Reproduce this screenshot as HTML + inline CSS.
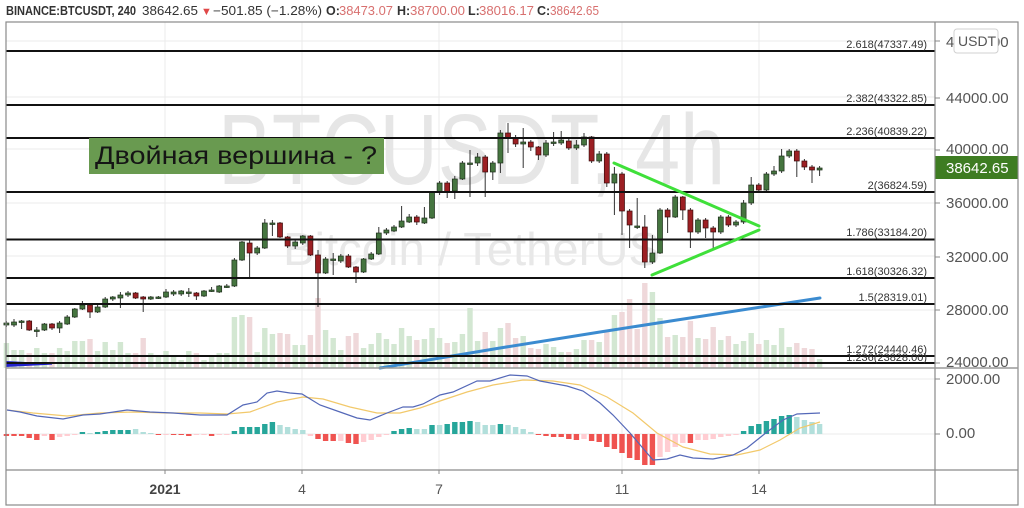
<!DOCTYPE html>
<html><head><meta charset="utf-8"><style>
html,body{margin:0;padding:0;background:#fff;width:1024px;height:508px;overflow:hidden}
svg{display:block;font-family:"Liberation Sans",sans-serif}
.g{fill:#45753f;stroke:#1e2e1c;stroke-width:.7}
.r{fill:#9c1f23;stroke:#3a0c0c;stroke-width:.7}
.vg{fill:#d3e7d2}.vr{fill:#efd8da}
.T{fill:#26a69a}.L{fill:#b2dfdb}.R{fill:#ef5350}.P{fill:#ffcdd2}
.fl{stroke:#111;stroke-width:2}
.ft{font-size:11px;fill:#333;text-anchor:end}
.pa{font-size:15px;fill:#555}
</style></head><body>
<svg width="1024" height="508" viewBox="0 0 1024 508" xmlns="http://www.w3.org/2000/svg">
<rect width="1024" height="508" fill="#fff"/>
<!-- header -->
<g font-size="12.5" fill="#333">
<text x="6" y="15" font-weight="bold" textLength="130" lengthAdjust="spacingAndGlyphs">BINANCE:BTCUSDT, 240</text>
<text x="142" y="15" textLength="56" lengthAdjust="spacingAndGlyphs">38642.65</text>
<text x="201" y="15" fill="#e04848" font-size="11">▼</text>
<text x="213" y="15" textLength="109" lengthAdjust="spacingAndGlyphs">−501.85 (−1.28%)</text>
<text x="326" y="15" font-weight="bold">O:</text>
<text x="339" y="15" fill="#d8706f" textLength="54" lengthAdjust="spacingAndGlyphs">38473.07</text>
<text x="397" y="15" font-weight="bold">H:</text>
<text x="410" y="15" fill="#d8706f" textLength="55" lengthAdjust="spacingAndGlyphs">38700.00</text>
<text x="468" y="15" font-weight="bold">L:</text>
<text x="479" y="15" fill="#d8706f" textLength="55" lengthAdjust="spacingAndGlyphs">38016.17</text>
<text x="537" y="15" font-weight="bold">C:</text>
<text x="550" y="15" fill="#d8706f" textLength="49" lengthAdjust="spacingAndGlyphs">38642.65</text>
</g>
<!-- grid -->
<g stroke="#ebebeb" stroke-width="1">
<path d="M165 22V470M302 22V470M439 22V470M622 22V470M759 22V470"/>
<path d="M6 41H935M6 97H935M6 149H935M6 203H935M6 256H935M6 310H935M6 379H935M6 434H935"/>
</g>
<!-- watermark -->
<text x="218" y="184" font-size="100" fill="#e6e6e6" textLength="507" lengthAdjust="spacingAndGlyphs">BTCUSDT, 4h</text>
<text x="283" y="265" font-size="46" fill="#e8e8e8" textLength="377" lengthAdjust="spacingAndGlyphs">Bitcoin / TetherUS</text>
<!-- volume -->
<g>
<rect class="vg" x="3.7" y="343" width="5.4" height="25"/><rect class="vg" x="11.3" y="350" width="5.4" height="18"/><rect class="vg" x="18.9" y="350" width="5.4" height="18"/><rect class="vr" x="26.5" y="353" width="5.4" height="15"/><rect class="vg" x="34.1" y="348" width="5.4" height="20"/><rect class="vg" x="41.7" y="353" width="5.4" height="15"/><rect class="vr" x="49.3" y="353" width="5.4" height="15"/><rect class="vg" x="56.9" y="348" width="5.4" height="20"/><rect class="vg" x="64.5" y="351" width="5.4" height="17"/><rect class="vg" x="72.1" y="341" width="5.4" height="27"/><rect class="vg" x="79.7" y="341" width="5.4" height="27"/><rect class="vr" x="87.3" y="339" width="5.4" height="29"/><rect class="vg" x="94.9" y="351" width="5.4" height="17"/><rect class="vg" x="102.5" y="342" width="5.4" height="26"/><rect class="vg" x="110.1" y="350" width="5.4" height="18"/><rect class="vg" x="117.7" y="342" width="5.4" height="26"/><rect class="vg" x="125.3" y="353" width="5.4" height="15"/><rect class="vr" x="132.9" y="353" width="5.4" height="15"/><rect class="vr" x="140.5" y="338" width="5.4" height="30"/><rect class="vg" x="148.1" y="353" width="5.4" height="15"/><rect class="vg" x="155.7" y="357" width="5.4" height="11"/><rect class="vg" x="163.3" y="351" width="5.4" height="17"/><rect class="vg" x="170.9" y="357" width="5.4" height="11"/><rect class="vg" x="178.5" y="360" width="5.4" height="8"/><rect class="vg" x="186.1" y="351" width="5.4" height="17"/><rect class="vr" x="193.7" y="353" width="5.4" height="15"/><rect class="vg" x="201.3" y="360" width="5.4" height="8"/><rect class="vg" x="208.9" y="357" width="5.4" height="11"/><rect class="vg" x="216.5" y="353" width="5.4" height="15"/><rect class="vg" x="224.1" y="353" width="5.4" height="15"/><rect class="vg" x="231.7" y="317" width="5.4" height="51"/><rect class="vg" x="239.3" y="315" width="5.4" height="53"/><rect class="vr" x="246.9" y="317" width="5.4" height="51"/><rect class="vg" x="254.5" y="352" width="5.4" height="16"/><rect class="vg" x="262.1" y="328" width="5.4" height="40"/><rect class="vg" x="269.7" y="334" width="5.4" height="34"/><rect class="vr" x="277.3" y="333" width="5.4" height="35"/><rect class="vr" x="284.9" y="334" width="5.4" height="34"/><rect class="vg" x="292.5" y="345" width="5.4" height="23"/><rect class="vg" x="300.1" y="345" width="5.4" height="23"/><rect class="vr" x="307.7" y="335" width="5.4" height="33"/><rect class="vr" x="315.3" y="298" width="5.4" height="70"/><rect class="vg" x="322.9" y="330" width="5.4" height="38"/><rect class="vg" x="330.5" y="338" width="5.4" height="30"/><rect class="vg" x="338.1" y="350" width="5.4" height="18"/><rect class="vr" x="345.7" y="336" width="5.4" height="32"/><rect class="vr" x="353.3" y="333" width="5.4" height="35"/><rect class="vg" x="360.9" y="348" width="5.4" height="20"/><rect class="vg" x="368.5" y="344" width="5.4" height="24"/><rect class="vg" x="376.1" y="333" width="5.4" height="35"/><rect class="vg" x="383.7" y="339" width="5.4" height="29"/><rect class="vg" x="391.3" y="344" width="5.4" height="24"/><rect class="vg" x="398.9" y="328" width="5.4" height="40"/><rect class="vg" x="406.5" y="336" width="5.4" height="32"/><rect class="vr" x="414.1" y="340" width="5.4" height="28"/><rect class="vg" x="421.7" y="339" width="5.4" height="29"/><rect class="vg" x="429.3" y="328" width="5.4" height="40"/><rect class="vg" x="436.9" y="338" width="5.4" height="30"/><rect class="vr" x="444.5" y="343" width="5.4" height="25"/><rect class="vg" x="452.1" y="342" width="5.4" height="26"/><rect class="vg" x="459.7" y="334" width="5.4" height="34"/><rect class="vg" x="467.3" y="308" width="5.4" height="60"/><rect class="vg" x="474.9" y="341" width="5.4" height="27"/><rect class="vr" x="482.5" y="332" width="5.4" height="36"/><rect class="vg" x="490.1" y="341" width="5.4" height="27"/><rect class="vg" x="497.7" y="328" width="5.4" height="40"/><rect class="vr" x="505.3" y="323" width="5.4" height="45"/><rect class="vr" x="512.9" y="338" width="5.4" height="30"/><rect class="vg" x="520.5" y="336" width="5.4" height="32"/><rect class="vr" x="528.1" y="348" width="5.4" height="20"/><rect class="vr" x="535.7" y="349" width="5.4" height="19"/><rect class="vg" x="543.3" y="344" width="5.4" height="24"/><rect class="vg" x="550.9" y="347" width="5.4" height="21"/><rect class="vg" x="558.5" y="352" width="5.4" height="16"/><rect class="vr" x="566.1" y="352" width="5.4" height="16"/><rect class="vg" x="573.7" y="349" width="5.4" height="19"/><rect class="vg" x="581.3" y="340" width="5.4" height="28"/><rect class="vr" x="588.9" y="340" width="5.4" height="28"/><rect class="vg" x="596.5" y="342" width="5.4" height="26"/><rect class="vr" x="604.1" y="332" width="5.4" height="36"/><rect class="vg" x="611.7" y="315" width="5.4" height="53"/><rect class="vr" x="619.3" y="312" width="5.4" height="56"/><rect class="vr" x="626.9" y="299" width="5.4" height="69"/><rect class="vr" x="634.5" y="329" width="5.4" height="39"/><rect class="vr" x="642.1" y="283" width="5.4" height="85"/><rect class="vg" x="649.7" y="292" width="5.4" height="76"/><rect class="vg" x="657.3" y="318" width="5.4" height="50"/><rect class="vr" x="664.9" y="337" width="5.4" height="31"/><rect class="vg" x="672.5" y="335" width="5.4" height="33"/><rect class="vr" x="680.1" y="337" width="5.4" height="31"/><rect class="vr" x="687.7" y="321" width="5.4" height="47"/><rect class="vg" x="695.3" y="338" width="5.4" height="30"/><rect class="vr" x="702.9" y="339" width="5.4" height="29"/><rect class="vr" x="710.5" y="327" width="5.4" height="41"/><rect class="vg" x="718.1" y="340" width="5.4" height="28"/><rect class="vr" x="725.7" y="336" width="5.4" height="32"/><rect class="vg" x="733.3" y="344" width="5.4" height="24"/><rect class="vg" x="740.9" y="341" width="5.4" height="27"/><rect class="vg" x="748.5" y="333" width="5.4" height="35"/><rect class="vr" x="756.1" y="344" width="5.4" height="24"/><rect class="vg" x="763.7" y="340" width="5.4" height="28"/><rect class="vg" x="771.3" y="345" width="5.4" height="23"/><rect class="vg" x="778.9" y="328" width="5.4" height="40"/><rect class="vg" x="786.5" y="347" width="5.4" height="21"/><rect class="vr" x="794.1" y="343" width="5.4" height="25"/><rect class="vr" x="801.7" y="348" width="5.4" height="20"/><rect class="vr" x="809.3" y="349" width="5.4" height="19"/><rect class="vg" x="816.9" y="359" width="5.4" height="9"/>
</g>
<!-- blue MA -->
<polyline points="380,368 500,348 600,332 677,320 820,298" fill="none" stroke="#3b8bd0" stroke-width="3" stroke-linecap="round"/>
<polygon points="6,361 52,363.4 52,364.6 6,367" fill="#2222cc"/>
<!-- wicks -->
<path stroke="#333" stroke-width="1" fill="none" d="M6.4 321V327M14 319V327M21.6 320V329M29.2 320V331M36.8 327V337M44.4 323V331M52 323V330M59.6 321V333M67.2 315V325M74.8 308V318M82.4 301V310M90 303V318M97.6 305V313M105.2 297V308M112.8 296V301M120.4 292V308M128 291V297M135.6 292V299M143.2 296V312M150.8 296V300M158.4 296V299M166 289V298M173.6 290V296M181.2 290V296M188.8 288V297M196.4 292V300M204 290V297M211.6 287V292M219.2 285V293M226.8 284V288M234.4 258V287M242 241V261M249.6 240V277M257.2 246V255M264.8 219V249M272.4 220V236M280 222V238M287.6 236V248M295.2 240V249M302.8 235V245M310.4 235V256M318 250V307M325.6 257V274M333.2 253V275M340.8 254V263M348.4 254V268M356 266V283M363.6 258V273M371.2 252V260M378.8 227V255M386.4 228V235M394 225V232M401.6 206V228M409.2 214V223M416.8 215V225M424.4 207V224M432 191V219M439.6 181V195M447.2 181V198M454.8 176V199M462.4 161V180M470 150V197M477.6 153V166M485.2 155V197M492.8 161V180M500.4 130V173M508 123V153M515.6 135V147M523.2 128V168M530.8 140V151M538.4 146V160M546 140V157M553.6 132V146M561.2 131V145M568.8 139V150M576.4 140V150M584 133V147M591.6 136V163M599.2 151V163M606.8 152V187M614.4 167V215M622 172V235M629.6 209V248M637.2 198V229M644.8 215V268M652.4 235V264M660 208V254M667.6 208V233M675.2 195V218M682.8 196V220M690.4 208V248M698 218V234M705.6 218V238M713.2 226V248M720.8 215V234M728.4 215V227M736 220V227M743.6 200V224M751.2 177V205M758.8 183V192M766.4 172V191M774 166V176M781.6 149V173M789.2 149V158M796.8 149V177M804.4 159V170M812 165V183M819.6 166V176"/>
<!-- bodies -->
<g>
<rect class="g" x="3.9" y="323" width="5" height="2"/><rect class="g" x="11.5" y="322" width="5" height="3"/><rect class="g" x="19.1" y="321" width="5" height="1.5"/><rect class="r" x="26.7" y="321" width="5" height="9"/><rect class="g" x="34.3" y="330" width="5" height="1.5"/><rect class="g" x="41.9" y="324" width="5" height="6"/><rect class="r" x="49.5" y="324" width="5" height="4"/><rect class="g" x="57.1" y="323" width="5" height="5"/><rect class="g" x="64.7" y="317" width="5" height="7"/><rect class="g" x="72.3" y="309" width="5" height="8"/><rect class="g" x="79.9" y="305" width="5" height="4"/><rect class="r" x="87.5" y="305" width="5" height="7"/><rect class="g" x="95.1" y="307" width="5" height="5"/><rect class="g" x="102.7" y="299" width="5" height="8"/><rect class="g" x="110.3" y="297" width="5" height="2"/><rect class="g" x="117.9" y="295" width="5" height="3"/><rect class="g" x="125.5" y="293" width="5" height="2"/><rect class="r" x="133.1" y="293" width="5" height="5"/><rect class="r" x="140.7" y="297" width="5" height="2"/><rect class="g" x="148.3" y="297" width="5" height="2"/><rect class="g" x="155.9" y="297" width="5" height="1.5"/><rect class="g" x="163.5" y="292" width="5" height="5"/><rect class="g" x="171.1" y="292" width="5" height="2"/><rect class="g" x="178.7" y="291" width="5" height="3"/><rect class="g" x="186.3" y="292" width="5" height="1.5"/><rect class="r" x="193.9" y="293" width="5" height="3"/><rect class="g" x="201.5" y="291" width="5" height="5"/><rect class="g" x="209.1" y="290" width="5" height="1.5"/><rect class="g" x="216.7" y="286" width="5" height="6"/><rect class="g" x="224.3" y="286" width="5" height="1.5"/><rect class="g" x="231.9" y="260" width="5" height="26"/><rect class="g" x="239.5" y="242" width="5" height="18"/><rect class="r" x="247.1" y="243" width="5" height="10"/><rect class="g" x="254.7" y="248" width="5" height="5"/><rect class="g" x="262.3" y="223" width="5" height="25"/><rect class="g" x="269.9" y="223" width="5" height="1.5"/><rect class="r" x="277.5" y="223" width="5" height="14"/><rect class="r" x="285.1" y="237" width="5" height="9"/><rect class="g" x="292.7" y="242" width="5" height="4"/><rect class="g" x="300.3" y="236" width="5" height="7"/><rect class="r" x="307.9" y="236" width="5" height="19"/><rect class="r" x="315.5" y="255" width="5" height="18"/><rect class="g" x="323.1" y="259" width="5" height="14"/><rect class="g" x="330.7" y="259" width="5" height="1.5"/><rect class="g" x="338.3" y="256" width="5" height="5"/><rect class="r" x="345.9" y="256" width="5" height="11"/><rect class="r" x="353.5" y="267" width="5" height="5"/><rect class="g" x="361.1" y="259" width="5" height="13"/><rect class="g" x="368.7" y="254" width="5" height="5"/><rect class="g" x="376.3" y="233" width="5" height="21"/><rect class="g" x="383.9" y="230" width="5" height="3"/><rect class="g" x="391.5" y="227" width="5" height="4"/><rect class="g" x="399.1" y="221" width="5" height="6"/><rect class="g" x="406.7" y="217" width="5" height="5"/><rect class="r" x="414.3" y="217" width="5" height="5"/><rect class="g" x="421.9" y="218" width="5" height="5"/><rect class="g" x="429.5" y="192" width="5" height="26"/><rect class="g" x="437.1" y="183" width="5" height="9"/><rect class="r" x="444.7" y="183" width="5" height="9"/><rect class="g" x="452.3" y="179" width="5" height="12"/><rect class="g" x="459.9" y="163" width="5" height="16"/><rect class="g" x="467.5" y="163" width="5" height="1.5"/><rect class="g" x="475.1" y="157" width="5" height="6"/><rect class="r" x="482.7" y="157" width="5" height="15"/><rect class="g" x="490.3" y="163" width="5" height="9"/><rect class="g" x="497.9" y="133" width="5" height="30"/><rect class="r" x="505.5" y="133" width="5" height="5"/><rect class="r" x="513.1" y="138" width="5" height="6"/><rect class="g" x="520.7" y="142" width="5" height="2"/><rect class="r" x="528.3" y="142" width="5" height="5"/><rect class="r" x="535.9" y="147" width="5" height="8"/><rect class="g" x="543.5" y="143" width="5" height="12"/><rect class="g" x="551.1" y="142" width="5" height="1.5"/><rect class="g" x="558.7" y="140" width="5" height="3"/><rect class="r" x="566.3" y="141" width="5" height="7"/><rect class="g" x="573.9" y="145" width="5" height="3"/><rect class="g" x="581.5" y="137" width="5" height="8"/><rect class="r" x="589.1" y="137" width="5" height="24"/><rect class="g" x="596.7" y="154" width="5" height="7"/><rect class="r" x="604.3" y="154" width="5" height="29"/><rect class="g" x="611.9" y="174" width="5" height="9"/><rect class="r" x="619.5" y="174" width="5" height="37"/><rect class="r" x="627.1" y="211" width="5" height="14"/><rect class="g" x="634.7" y="226" width="5" height="1.5"/><rect class="r" x="642.3" y="227" width="5" height="35"/><rect class="g" x="649.9" y="253" width="5" height="9"/><rect class="g" x="657.5" y="210" width="5" height="43"/><rect class="r" x="665.1" y="210" width="5" height="7"/><rect class="g" x="672.7" y="197" width="5" height="20"/><rect class="r" x="680.3" y="197" width="5" height="13"/><rect class="r" x="687.9" y="210" width="5" height="22"/><rect class="g" x="695.5" y="220" width="5" height="12"/><rect class="r" x="703.1" y="220" width="5" height="8"/><rect class="r" x="710.7" y="228" width="5" height="4"/><rect class="g" x="718.3" y="217" width="5" height="15"/><rect class="r" x="725.9" y="217" width="5" height="8"/><rect class="g" x="733.5" y="222" width="5" height="3"/><rect class="g" x="741.1" y="203" width="5" height="19"/><rect class="g" x="748.7" y="185" width="5" height="18"/><rect class="r" x="756.3" y="185" width="5" height="5"/><rect class="g" x="763.9" y="174" width="5" height="16"/><rect class="g" x="771.5" y="171" width="5" height="3"/><rect class="g" x="779.1" y="156" width="5" height="15"/><rect class="g" x="786.7" y="151" width="5" height="5"/><rect class="r" x="794.3" y="151" width="5" height="10"/><rect class="r" x="801.9" y="161" width="5" height="6"/><rect class="r" x="809.5" y="167" width="5" height="3"/><rect class="g" x="817.1" y="168" width="5" height="2"/>
</g>
<!-- fib lines -->
<path class="fl" d="M6 51H935M6 105H935M6 138H935M6 192H935M6 239.5H935M6 278H935M6 304H935M6 356H935M6 363H935"/>
<g class="ft">
<text x="927" y="48">2.618(47337.49)</text>
<text x="927" y="102">2.382(43322.85)</text>
<text x="927" y="135">2.236(40839.22)</text>
<text x="927" y="189">2(36824.59)</text>
<text x="927" y="236">1.786(33184.20)</text>
<text x="927" y="275">1.618(30326.32)</text>
<text x="927" y="301">1.5(28319.01)</text>
<text x="927" y="353">1.272(24440.46)</text>
<text x="927" y="361">1.236(23828.00)</text>
</g>
<!-- label box -->
<rect x="89" y="138" width="295" height="36" fill="#699a50"/>
<text x="95" y="164" font-size="25" fill="#151515" textLength="282" lengthAdjust="spacingAndGlyphs">Двойная вершина - ?</text>
<!-- triangle -->
<g stroke="#3fe03a" stroke-width="3" stroke-linecap="round" fill="none">
<path d="M614 163L759 226M652 275L759 230"/>
</g>
<!-- MACD hist -->
<g>
<rect class="R" x="3.7" y="434" width="5.4" height="2"/><rect class="R" x="11.3" y="434" width="5.4" height="2"/><rect class="R" x="18.9" y="434" width="5.4" height="2"/><rect class="R" x="26.5" y="434" width="5.4" height="4"/><rect class="R" x="34.1" y="434" width="5.4" height="6"/><rect class="P" x="41.7" y="434" width="5.4" height="2"/><rect class="R" x="49.3" y="434" width="5.4" height="6"/><rect class="P" x="56.9" y="434" width="5.4" height="3"/><rect class="P" x="64.5" y="434" width="5.4" height="2"/><rect class="P" x="72.1" y="434" width="5.4" height="1"/><rect class="T" x="79.7" y="432" width="5.4" height="2"/><rect class="L" x="87.3" y="433" width="5.4" height="1"/><rect class="T" x="94.9" y="432" width="5.4" height="2"/><rect class="T" x="102.5" y="431" width="5.4" height="3"/><rect class="T" x="110.1" y="430" width="5.4" height="4"/><rect class="T" x="117.7" y="430" width="5.4" height="4"/><rect class="T" x="125.3" y="430" width="5.4" height="4"/><rect class="L" x="132.9" y="429" width="5.4" height="5"/><rect class="L" x="140.5" y="432" width="5.4" height="2"/><rect class="L" x="148.1" y="433" width="5.4" height="1"/><rect class="R" x="155.7" y="434" width="5.4" height="1"/><rect class="P" x="163.3" y="434" width="5.4" height="1"/><rect class="R" x="170.9" y="434" width="5.4" height="1"/><rect class="R" x="178.5" y="434" width="5.4" height="1"/><rect class="R" x="186.1" y="434" width="5.4" height="2"/><rect class="P" x="193.7" y="434" width="5.4" height="1"/><rect class="P" x="201.3" y="434" width="5.4" height="1"/><rect class="R" x="208.9" y="434" width="5.4" height="2"/><rect class="P" x="216.5" y="434" width="5.4" height="1"/><rect class="P" x="224.1" y="434" width="5.4" height="1"/><rect class="T" x="231.7" y="431" width="5.4" height="3"/><rect class="T" x="239.3" y="427" width="5.4" height="7"/><rect class="T" x="246.9" y="427" width="5.4" height="7"/><rect class="T" x="254.5" y="427" width="5.4" height="7"/><rect class="T" x="262.1" y="424" width="5.4" height="10"/><rect class="T" x="269.7" y="422" width="5.4" height="12"/><rect class="L" x="277.3" y="425" width="5.4" height="9"/><rect class="L" x="284.9" y="427" width="5.4" height="7"/><rect class="L" x="292.5" y="429" width="5.4" height="5"/><rect class="L" x="300.1" y="430" width="5.4" height="4"/><rect class="P" x="307.7" y="434" width="5.4" height="2"/><rect class="R" x="315.3" y="434" width="5.4" height="5"/><rect class="R" x="322.9" y="434" width="5.4" height="7"/><rect class="R" x="330.5" y="434" width="5.4" height="7"/><rect class="P" x="338.1" y="434" width="5.4" height="7"/><rect class="R" x="345.7" y="434" width="5.4" height="9"/><rect class="R" x="353.3" y="434" width="5.4" height="10"/><rect class="P" x="360.9" y="434" width="5.4" height="8"/><rect class="P" x="368.5" y="434" width="5.4" height="6"/><rect class="P" x="376.1" y="434" width="5.4" height="3"/><rect class="P" x="383.7" y="434" width="5.4" height="1"/><rect class="T" x="391.3" y="431" width="5.4" height="3"/><rect class="T" x="398.9" y="429" width="5.4" height="5"/><rect class="T" x="406.5" y="428" width="5.4" height="6"/><rect class="L" x="414.1" y="429" width="5.4" height="5"/><rect class="L" x="421.7" y="429" width="5.4" height="5"/><rect class="T" x="429.3" y="425" width="5.4" height="9"/><rect class="L" x="436.9" y="425" width="5.4" height="9"/><rect class="T" x="444.5" y="424" width="5.4" height="10"/><rect class="T" x="452.1" y="422" width="5.4" height="12"/><rect class="T" x="459.7" y="422" width="5.4" height="12"/><rect class="T" x="467.3" y="421" width="5.4" height="13"/><rect class="L" x="474.9" y="422" width="5.4" height="12"/><rect class="L" x="482.5" y="425" width="5.4" height="9"/><rect class="L" x="490.1" y="425" width="5.4" height="9"/><rect class="T" x="497.7" y="424" width="5.4" height="10"/><rect class="L" x="505.3" y="425" width="5.4" height="9"/><rect class="L" x="512.9" y="427" width="5.4" height="7"/><rect class="L" x="520.5" y="429" width="5.4" height="5"/><rect class="L" x="528.1" y="432" width="5.4" height="2"/><rect class="R" x="535.7" y="434" width="5.4" height="1"/><rect class="R" x="543.3" y="434" width="5.4" height="2"/><rect class="R" x="550.9" y="434" width="5.4" height="3"/><rect class="R" x="558.5" y="434" width="5.4" height="3"/><rect class="R" x="566.1" y="434" width="5.4" height="5"/><rect class="R" x="573.7" y="434" width="5.4" height="6"/><rect class="P" x="581.3" y="434" width="5.4" height="5"/><rect class="R" x="588.9" y="434" width="5.4" height="7"/><rect class="R" x="596.5" y="434" width="5.4" height="8"/><rect class="R" x="604.1" y="434" width="5.4" height="13"/><rect class="R" x="611.7" y="434" width="5.4" height="15"/><rect class="R" x="619.3" y="434" width="5.4" height="19"/><rect class="R" x="626.9" y="434" width="5.4" height="24"/><rect class="R" x="634.5" y="434" width="5.4" height="26"/><rect class="R" x="642.1" y="434" width="5.4" height="31"/><rect class="R" x="649.7" y="434" width="5.4" height="31"/><rect class="P" x="657.3" y="434" width="5.4" height="23"/><rect class="P" x="664.9" y="434" width="5.4" height="18"/><rect class="P" x="672.5" y="434" width="5.4" height="13"/><rect class="P" x="680.1" y="434" width="5.4" height="9"/><rect class="R" x="687.7" y="434" width="5.4" height="9"/><rect class="P" x="695.3" y="434" width="5.4" height="6"/><rect class="P" x="702.9" y="434" width="5.4" height="6"/><rect class="P" x="710.5" y="434" width="5.4" height="5"/><rect class="P" x="718.1" y="434" width="5.4" height="3"/><rect class="P" x="725.7" y="434" width="5.4" height="2"/><rect class="P" x="733.3" y="434" width="5.4" height="1"/><rect class="T" x="740.9" y="431" width="5.4" height="3"/><rect class="T" x="748.5" y="426" width="5.4" height="8"/><rect class="T" x="756.1" y="424" width="5.4" height="10"/><rect class="T" x="763.7" y="421" width="5.4" height="13"/><rect class="T" x="771.3" y="419" width="5.4" height="15"/><rect class="T" x="778.9" y="416" width="5.4" height="18"/><rect class="T" x="786.5" y="415" width="5.4" height="19"/><rect class="L" x="794.1" y="417" width="5.4" height="17"/><rect class="L" x="801.7" y="420" width="5.4" height="14"/><rect class="L" x="809.3" y="422" width="5.4" height="12"/><rect class="L" x="816.9" y="424" width="5.4" height="10"/>
</g>
<polyline fill="none" stroke="#f2c96b" stroke-width="1.2" points="7,410 33,413 67,416 100,413 133,412 167,413 200,413 227,414 250,412 277,402 303,397 323,399 350,407 377,413 400,413 420,408 443,400 467,392 493,385 523,380 553,381 580,385 607,397 633,413 657,433 683,447 710,454 737,455 760,450 780,440 800,428 820,422"/>
<polyline fill="none" stroke="#5468b8" stroke-width="1.2" points="7,410 20,412 37,416 63,419 83,415 100,414 127,410 150,412 173,413 200,415 227,415 243,405 257,402 267,393 277,391 290,393 302,394 320,405 340,412 357,418 370,420 387,413 403,407 413,407 423,404 440,395 453,392 477,381 490,381 510,375 527,376 540,381 567,386 583,391 600,403 613,415 630,433 647,453 653,460 667,459 680,455 693,458 713,459 733,455 747,448 767,432 783,420 797,414 820,413"/>
<!-- frame -->
<rect x="935" y="22" width="83" height="483" fill="#fff"/>
<g stroke="#8a8a8a" stroke-width="1.2" fill="none">
<rect x="6" y="22" width="1012" height="483"/>
<path d="M935 22V505M6 470H1018"/>
</g>
<path d="M6 368H1018" stroke="#999" stroke-width="1.5"/>
<!-- price axis -->
<g stroke="#888" stroke-width="1"><path d="M935 41H940M935 98H940M935 150H940M935 203H940M935 257H940M935 310H940M935 363H940M935 379H940M935 434H940"/></g>
<g class="pa">
<text x="946" y="47">48000.00</text>
<text x="946" y="103">44000.00</text>
<text x="946" y="154">40000.00</text>
<text x="946" y="208">36000.00</text>
<text x="946" y="262">32000.00</text>
<text x="946" y="315">28000.00</text>
<text x="946" y="367">24000.00</text>
<text x="946" y="384">2000.00</text>
<text x="946" y="438">0.00</text>
</g>
<rect x="954" y="29" width="44" height="24" rx="3" fill="#fff" stroke="#d0d0d0"/>
<text x="958" y="46" font-size="14" fill="#555">USDT</text>
<rect x="935.5" y="156" width="82" height="23" fill="#3e7c22"/>
<text x="946" y="173" font-size="15" fill="#fff">38642.65</text>
<!-- time axis -->
<g stroke="#888"><path d="M165 470V474M302 470V474M439 470V474M622 470V474M759 470V474"/></g>
<g font-size="14" fill="#555" text-anchor="middle">
<text x="165" y="494" font-weight="bold" fill="#444">2021</text>
<text x="302" y="494">4</text>
<text x="439" y="494">7</text>
<text x="622" y="494">11</text>
<text x="759" y="494">14</text>
</g>
</svg>
</body></html>
